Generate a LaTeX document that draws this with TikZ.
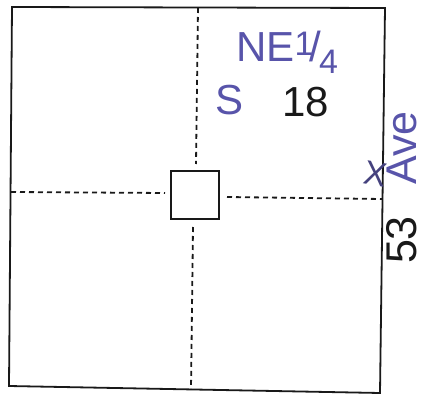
\documentclass[tikz,border=0pt]{standalone}
\usepackage{fontspec}
\setmainfont{Liberation Sans}
\definecolor{pen}{RGB}{88,84,170}
\definecolor{ink}{RGB}{25,25,25}
\tikzset{
  frame/.style={draw=ink, line width=1.8pt},
  plot/.style={draw=ink, line width=1.6pt, minimum size=48pt, inner sep=0pt, fill=white},
  divider/.style={draw=ink, line width=1.8pt, dash pattern=on 5pt off 4pt},
  hand/.style={inner sep=0pt, font=\fontsize{42}{42}\selectfont},
}
\begin{document}
\begin{tikzpicture}[x=1pt,y=-1pt]
\useasboundingbox (0,0) rectangle (425,403);
\fill[white] (0,0) rectangle (425,403);
% outer section
\draw[frame] (12,7) -- (385,8) -- (380,393) -- (9,386) -- cycle;
% central plot
\node[plot] (sq) at (195,195) {};
% dashed quarter lines
\coordinate (nT) at (198,8);
\coordinate (nB) at (196,164);
\coordinate (sT) at (193,227);
\coordinate (sB) at (191,389);
\coordinate (wL) at (11,192);
\coordinate (wR) at (165,193);
\coordinate (eL) at (227,197);
\coordinate (eR) at (382,199);
\draw[divider] (nT) -- (nB);
\draw[divider] (sT) -- (sB);
\draw[divider] (wL) -- (wR);
\draw[divider] (eL) -- (eR);
% handwriting
\node[hand, text=pen, anchor=base west] (ne) at (236,62) {NE\raisebox{6pt}{\fontsize{34}{34}\selectfont 1}\kern-4pt/\kern-2pt\raisebox{-12pt}{\fontsize{34}{34}\selectfont 4}};
\node[hand, text=pen, anchor=base west] (s) at (215,115) {S};
\node[hand, text=ink, anchor=base west] (n18) at (282,117) {18};
\node[text=pen!70!ink, inner sep=0pt, font=\fontsize{34}{34}\selectfont, rotate=-10] (x) at (376,174) {X};
\node[hand, text=ink, rotate=90, anchor=base, font=\fontsize{43}{43}\selectfont] (n53) at (416,240) {53};
\node[hand, text=pen, rotate=90, anchor=base, font=\fontsize{43}{43}\selectfont] (ave) at (416,148) {Ave};
\end{tikzpicture}
\end{document}
